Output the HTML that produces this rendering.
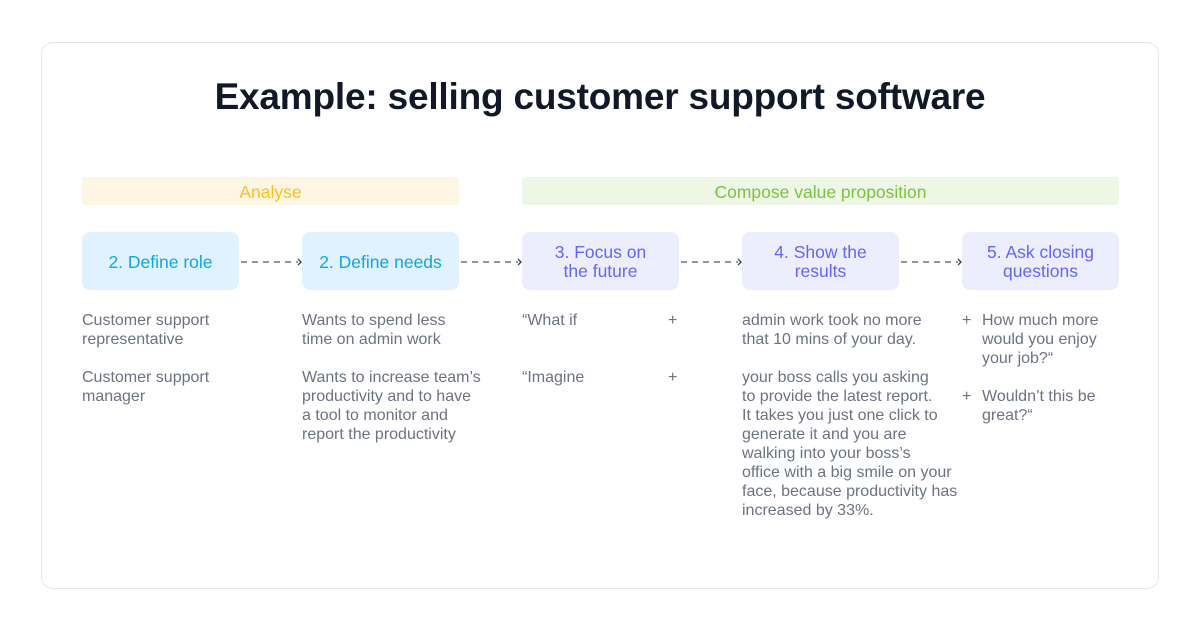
<!DOCTYPE html><html><head><style>
body{margin:0;width:1200px;height:630px;background:#fff;font-family:"Liberation Sans",sans-serif;position:relative;overflow:hidden}
.card{position:absolute;left:41px;top:42px;width:1116px;height:545px;border:1px solid #e5e7eb;border-radius:12px}
.a{position:absolute}
h1{position:absolute;left:0;width:1200px;top:76px;margin:0;text-align:center;font-size:37px;font-weight:bold;color:#111827;letter-spacing:-0.2px}
.band{position:absolute;top:177px;height:28px;border-radius:3px;text-align:center;line-height:30px;font-size:17.5px}
.box{position:absolute;top:232px;width:157px;height:58px;border-radius:8px;display:flex;align-items:center;justify-content:center;text-align:center;font-size:17.5px;line-height:19px;padding-top:2px;box-sizing:border-box}
.b{background:#e0f2fe;color:#0ea5e9}
.p{background:#eceefd;color:#6366f1}
.t{position:absolute;font-size:16px;line-height:19px;color:#6b7280}
</style></head><body>
<div class="card"></div>
<h1>Example: selling customer support software</h1>
<div class="band" style="left:82px;width:377px;background:#fef6e2;color:#fbbf24">Analyse</div>
<div class="band" style="left:522px;width:597px;background:#eef6e6;color:#7cc242">Compose value proposition</div>
<div class="box b" style="left:82px">2. Define role</div>
<div class="box b" style="left:302px">2. Define needs</div>
<div class="box p" style="left:522px">3. Focus on<br>the future</div>
<div class="box p" style="left:742px">4. Show the<br>results</div>
<div class="box p" style="left:962px">5. Ask closing<br>questions</div>
<svg class="a" style="left:0;top:0" width="1200" height="630">
<g stroke="#6b7280" stroke-width="1.5" stroke-dasharray="6 5" fill="none">
<line x1="241" y1="262" x2="298" y2="262"/><line x1="461" y1="262" x2="518" y2="262"/>
<line x1="681" y1="262" x2="738" y2="262"/><line x1="901" y1="262" x2="958" y2="262"/></g>
<g stroke="#374151" stroke-width="1.3" fill="none">
<path d="M298 259l3 3-3 3"/><path d="M518 259l3 3-3 3"/><path d="M738 259l3 3-3 3"/><path d="M958 259l3 3-3 3"/></g>
</svg>
<div class="t" style="left:82px;top:311px">Customer support<br>representative</div>
<div class="t" style="left:82px;top:368px">Customer support<br>manager</div>
<div class="t" style="left:302px;top:311px">Wants to spend less<br>time on admin work</div>
<div class="t" style="left:302px;top:368px">Wants to increase team’s<br>productivity and to have<br>a tool to monitor and<br>report the productivity</div>
<div class="t" style="left:522px;top:311px">“What if</div>
<div class="t" style="left:668px;top:311px">+</div>
<div class="t" style="left:522px;top:368px">“Imagine</div>
<div class="t" style="left:668px;top:368px">+</div>
<div class="t" style="left:742px;top:311px">admin work took no more<br>that 10 mins of your day.</div>
<div class="t" style="left:742px;top:368px">your boss calls you asking<br>to provide the latest report.<br>It takes you just one click to<br>generate it and you are<br>walking into your boss’s<br>office with a big smile on your<br>face, because productivity has<br>increased by 33%.</div>
<div class="t" style="left:962px;top:311px">+</div>
<div class="t" style="left:962px;top:387px">+</div>
<div class="t" style="left:982px;top:311px">How much more<br>would you enjoy<br>your job?“</div>
<div class="t" style="left:982px;top:387px">Wouldn’t this be<br>great?“</div>
</body></html>
